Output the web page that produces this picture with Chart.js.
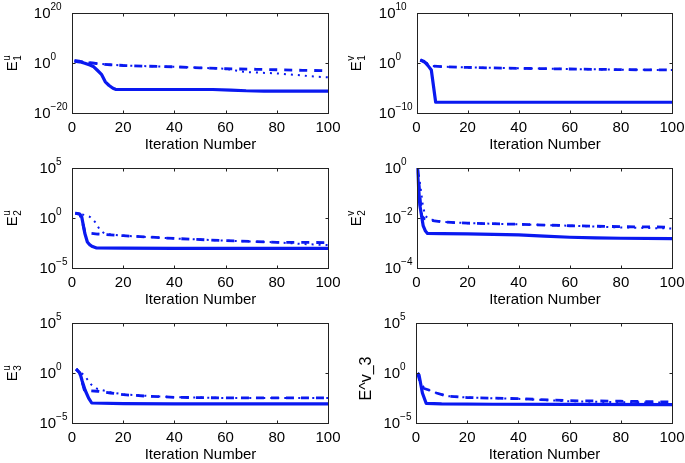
<!DOCTYPE html>
<html>
<head>
<meta charset="utf-8">
<script src="https://cdn.jsdelivr.net/npm/chart.js@4/dist/chart.umd.min.js"></script>
<style>
  html, body { margin: 0; padding: 0; background: #fff; }
  #wrap { position: relative; width: 685px; height: 463px; overflow: hidden; }
  #wrap canvas { position: absolute; left: 0; top: 0; }
</style>
</head>
<body>
<div id="wrap"></div>
<script>
'use strict';

// x axis of every panel
let xTicks = [0, 20, 40, 60, 80, 100];

// panel 1 : E1 u
let p1YTicks = [1e-20, 1e0, 1e20];
let p1SolidX = [1, 3, 5, 7, 8.5, 10, 11.5, 13, 14.5, 16, 17, 20, 40, 55, 62, 68, 75, 100];
let p1SolidY = [6, 3, 0.8, 0.15, 0.03, 1e-3, 3e-5, 3e-8, 1e-9, 8e-11, 3e-11, 2.5e-11, 2.5e-11, 2.5e-11, 1.5e-11, 8e-12, 6e-12, 6e-12];
let p1DashX = [1, 3, 5, 8, 10, 15, 20, 30, 40, 50, 60, 72, 80, 90, 100];
let p1DashY = [8, 5, 2, 1, 0.5, 0.2, 0.1, 0.05, 0.03, 0.012, 5e-3, 3e-3, 2e-3, 1.2e-3, 8e-4];
let p1DotX = [1, 3, 5, 8, 10, 15, 20, 30, 40, 50, 60, 64, 67, 72, 79, 88, 96, 100];
let p1DotY = [8, 5, 2, 1, 0.5, 0.2, 0.1, 0.05, 0.03, 0.012, 5e-3, 1e-3, 3e-4, 1.5e-4, 8e-5, 1.5e-5, 3e-6, 2e-6];

// panel 2 : E1 v
let p2YTicks = [1e-10, 1e0, 1e10];
let p2SolidX = [1.5, 3, 4.5, 5.8, 7.5, 100];
let p2SolidY = [4, 2, 0.3, 0.04, 1.4e-8, 1.4e-8];
let p2DashX = [1.5, 3, 6, 10, 20, 40, 60, 80, 100];
let p2DashY = [4, 1.5, 0.25, 0.18, 0.13, 0.085, 0.063, 0.047, 0.04];
let p2DotX = [1.5, 3, 6, 10, 20, 40, 60, 80, 100];
let p2DotY = [4, 1.5, 0.25, 0.18, 0.13, 0.085, 0.063, 0.047, 0.04];

// panel 3 : E2 u
let p3YTicks = [1e-5, 1e0, 1e5];
let p3SolidX = [1.3, 3, 3.8, 5, 6, 7, 8, 9.6, 20, 40, 60, 80, 100];
let p3SolidY = [3, 2.5, 1.3, 0.03, 4e-3, 2e-3, 1.4e-3, 1e-3, 9.5e-4, 9.3e-4, 9.2e-4, 9.1e-4, 9e-4];
let p3DashX = [1.3, 3, 4, 5, 7, 10, 20, 40, 60, 80, 100];
let p3DashY = [3, 2.5, 0.5, 0.04, 0.03, 0.025, 0.017, 9e-3, 5.4e-3, 3.7e-3, 3.5e-3];
let p3DotX = [1.3, 3, 5, 7, 9, 11, 13, 20, 40, 60, 80, 90, 100];
let p3DotY = [3, 2.5, 2, 1.3, 0.4, 0.06, 0.025, 0.017, 9e-3, 5.4e-3, 3.7e-3, 2.5e-3, 2e-3];

// panel 4 : E2 v
let p4YTicks = [1e-4, 1e-2, 1e0];
let p4SolidX = [0.3, 1.3, 2.6, 3.5, 4.3, 10, 20, 30, 40, 50, 60, 70, 80, 100];
let p4SolidY = [1, 0.033, 5e-3, 3e-3, 2.4e-3, 2.35e-3, 2.3e-3, 2.2e-3, 2.1e-3, 1.9e-3, 1.7e-3, 1.6e-3, 1.55e-3, 1.5e-3];
let p4DashX = [0.5, 1.5, 2, 3, 4.3, 7, 10, 20, 40, 60, 80, 100];
let p4DashY = [1, 0.05, 0.012, 9.5e-3, 9e-3, 7.6e-3, 7e-3, 6.2e-3, 5.6e-3, 4.9e-3, 4.5e-3, 4.3e-3];
let p4DotX = [0.5, 1.5, 2.5, 3.5, 5, 10, 20, 40, 60, 80, 100];
let p4DotY = [1, 0.2, 0.03, 0.012, 9e-3, 7e-3, 6.2e-3, 5.6e-3, 4.9e-3, 4.2e-3, 3.8e-3];

// panel 5 : E3 u
let p5YTicks = [1e-5, 1e0, 1e5];
let p5SolidX = [1.6, 3.1, 4, 5.1, 6.5, 7.7, 20, 40, 60, 80, 100];
let p5SolidY = [2.5, 1, 0.15, 0.02, 3e-3, 1e-3, 8.5e-4, 8e-4, 8e-4, 8e-4, 8e-4];
let p5DashX = [1.6, 3, 4.8, 7, 10, 15, 20, 30, 40, 60, 80, 100];
let p5DashY = [2.5, 1, 0.02, 0.017, 0.015, 0.01, 6.8e-3, 4.7e-3, 3.7e-3, 3.2e-3, 3.2e-3, 3.2e-3];
let p5DotX = [1.6, 3, 5, 7.5, 10, 15, 20, 30, 40, 60, 80, 100];
let p5DotY = [2.5, 1.5, 0.5, 0.07, 0.025, 0.012, 7.5e-3, 5e-3, 3.8e-3, 3.2e-3, 3.2e-3, 3.2e-3];

// panel 6 : E^v_3
let p6YTicks = [1e-5, 1e0, 1e5];
let p6SolidX = [0.6, 1.2, 2.5, 4, 10, 30, 60, 100];
let p6SolidY = [1, 0.6, 0.01, 9e-4, 8e-4, 7.5e-4, 7.2e-4, 7e-4];
let p6DashX = [0.6, 2, 2.9, 5, 8, 12, 20, 40, 60, 80, 100];
let p6DashY = [1, 0.05, 0.03, 0.02, 0.01, 5e-3, 3.5e-3, 2.7e-3, 1.7e-3, 1.5e-3, 1.26e-3];
let p6DotX = [0.6, 2, 3, 5, 8, 12, 20, 40, 60, 80, 100];
let p6DotY = [1, 0.08, 0.04, 0.02, 0.01, 5e-3, 3.5e-3, 2.6e-3, 1.5e-3, 1.2e-3, 1.1e-3];

let blue = 'rgb(10, 25, 240)';
let font = '"Liberation Sans", Arial, Helvetica, sans-serif';

function pts(xs, ys) {
    return xs.map((x, i) => ({ x: x, y: ys[i] }));
}

// plot boxes (pixels) and labels
let panels = [
    { box: [72, 13, 328, 113], yMin: 1e-20, yMax: 1e20, yTicks: p1YTicks, label: ['E', 'u', '1'], labelX: 13,
      solid: pts(p1SolidX, p1SolidY), dash: pts(p1DashX, p1DashY), dot: pts(p1DotX, p1DotY) },
    { box: [416.5, 13, 672, 113], yMin: 1e-10, yMax: 1e10, yTicks: p2YTicks, label: ['E', 'v', '1'], labelX: 357,
      solid: pts(p2SolidX, p2SolidY), dash: pts(p2DashX, p2DashY), dot: pts(p2DotX, p2DotY) },
    { box: [72, 168, 328, 268], yMin: 1e-5, yMax: 1e5, yTicks: p3YTicks, label: ['E', 'u', '2'], labelX: 13,
      solid: pts(p3SolidX, p3SolidY), dash: pts(p3DashX, p3DashY), dot: pts(p3DotX, p3DotY) },
    { box: [416.5, 168, 672, 268], yMin: 1e-4, yMax: 1e0, yTicks: p4YTicks, label: ['E', 'v', '2'], labelX: 357,
      solid: pts(p4SolidX, p4SolidY), dash: pts(p4DashX, p4DashY), dot: pts(p4DotX, p4DotY) },
    { box: [72, 323, 328, 423], yMin: 1e-5, yMax: 1e5, yTicks: p5YTicks, label: ['E', 'u', '3'], labelX: 13,
      solid: pts(p5SolidX, p5SolidY), dash: pts(p5DashX, p5DashY), dot: pts(p5DotX, p5DotY) },
    { box: [416, 323, 672, 423], yMin: 1e-5, yMax: 1e5, yTicks: p6YTicks, label: 'E^v_3', labelX: 367, labelShift: 5,
      solid: pts(p6SolidX, p6SolidY), dash: pts(p6DashX, p6DashY), dot: pts(p6DotX, p6DotY) }
];

// matlab-like box, inner ticks, 10^n labels
let matlabAxes = {
    id: 'matlabAxes',
    afterDatasetsDraw(chart, args, opts) {
        let ctx = chart.ctx;
        let a = chart.chartArea;
        let xs = chart.scales.x;
        let ys = chart.scales.y;
        let L = Math.round(a.left) + 0.5, R = Math.round(a.right) + 0.5;
        let T = Math.round(a.top) + 0.5, B = Math.round(a.bottom) + 0.5;
        ctx.save();
        ctx.strokeStyle = '#222';
        ctx.lineWidth = 1;
        ctx.strokeRect(L, T, R - L, B - T);
        ctx.beginPath();
        xTicks.forEach(function (t) {
            let px = Math.round(xs.getPixelForValue(t)) + 0.5;
            ctx.moveTo(px, B); ctx.lineTo(px, B - 3);
            ctx.moveTo(px, T); ctx.lineTo(px, T + 3);
        });
        opts.yTicks.forEach(function (t) {
            let py = Math.round(ys.getPixelForValue(t)) + 0.5;
            ctx.moveTo(L, py); ctx.lineTo(L + 3, py);
            ctx.moveTo(R, py); ctx.lineTo(R - 3, py);
        });
        ctx.stroke();

        ctx.fillStyle = '#000';
        ctx.textBaseline = 'middle';
        ctx.textAlign = 'center';
        ctx.font = '15px ' + font;
        xTicks.forEach(function (t) {
            ctx.fillText(String(t), xs.getPixelForValue(t), B + 14);
        });
        ctx.fillText('Iteration Number', (L + R) / 2, B + 31);

        // y tick labels
        ctx.textAlign = 'left';
        let widths = opts.yTicks.map(function (t) {
            let e = Math.round(Math.log10(t));
            ctx.font = '15px ' + font;
            let w = ctx.measureText('10').width;
            ctx.font = '10px ' + font;
            return w + ctx.measureText(String(e).replace('-', '\u2212')).width;
        });
        let maxW = Math.max.apply(null, widths);
        opts.yTicks.forEach(function (t) {
            let py = ys.getPixelForValue(t);
            let e = Math.round(Math.log10(t));
            let x0 = L - 5 - maxW;
            ctx.font = '15px ' + font;
            ctx.fillText('10', x0, py + 1);
            let w = ctx.measureText('10').width;
            ctx.font = '10px ' + font;
            ctx.fillText(String(e).replace('-', '\u2212'), x0 + w, py - 6);
        });

        // y label, rotated
        let cy = (T + B) / 2 + (opts.labelShift || 0);
        ctx.translate(opts.labelX, cy);
        ctx.rotate(-Math.PI / 2);
        if (typeof opts.label === 'string') {
            ctx.textAlign = 'center';
            ctx.font = '16px ' + font;
            ctx.fillText(opts.label, 0, 0);
        } else {
            ctx.font = '15px ' + font;
            let wE = ctx.measureText(opts.label[0]).width;
            ctx.font = '10px ' + font;
            let wS = Math.max(ctx.measureText(opts.label[1]).width, ctx.measureText(opts.label[2]).width);
            let sx = -(wE + wS) / 2;
            ctx.font = '15px ' + font;
            ctx.fillText(opts.label[0], sx, 0);
            ctx.font = '10px ' + font;
            ctx.fillText(opts.label[1], sx + wE + 0.5, -6);
            ctx.fillText(opts.label[2], sx + wE + 0.5, 5);
        }
        ctx.restore();
    }
};

let wrap = document.getElementById('wrap');

panels.forEach(function (p) {
    let canvas = document.createElement('canvas');
    canvas.width = 685;
    canvas.height = 463;
    wrap.appendChild(canvas);
    new Chart(canvas.getContext('2d'), {
        type: 'line',
        data: {
            datasets: [{
                data: p.solid,
                borderColor: blue,
                borderWidth: 3.2
            }, {
                data: p.dash,
                borderColor: blue,
                borderWidth: 2.8,
                borderDash: [8, 7]
            }, {
                data: p.dot,
                borderColor: blue,
                borderWidth: 2,
                borderDash: [2, 5]
            }]
        },
        options: {
            responsive: false,
            animation: false,
            devicePixelRatio: 1,
            layout: {
                autoPadding: false,
                padding: { left: p.box[0], top: p.box[1], right: 685 - p.box[2], bottom: 463 - p.box[3] }
            },
            elements: {
                point: { radius: 0 },
                line: { tension: 0, fill: false, borderJoinStyle: 'round' }
            },
            scales: {
                x: { type: 'linear', min: 0, max: 100, display: false },
                y: { type: 'logarithmic', min: p.yMin, max: p.yMax, display: false }
            },
            plugins: {
                legend: { display: false },
                tooltip: { enabled: false },
                matlabAxes: { yTicks: p.yTicks, label: p.label, labelX: p.labelX, labelShift: p.labelShift }
            }
        },
        plugins: [matlabAxes]
    });
});
</script>
</body>
</html>
